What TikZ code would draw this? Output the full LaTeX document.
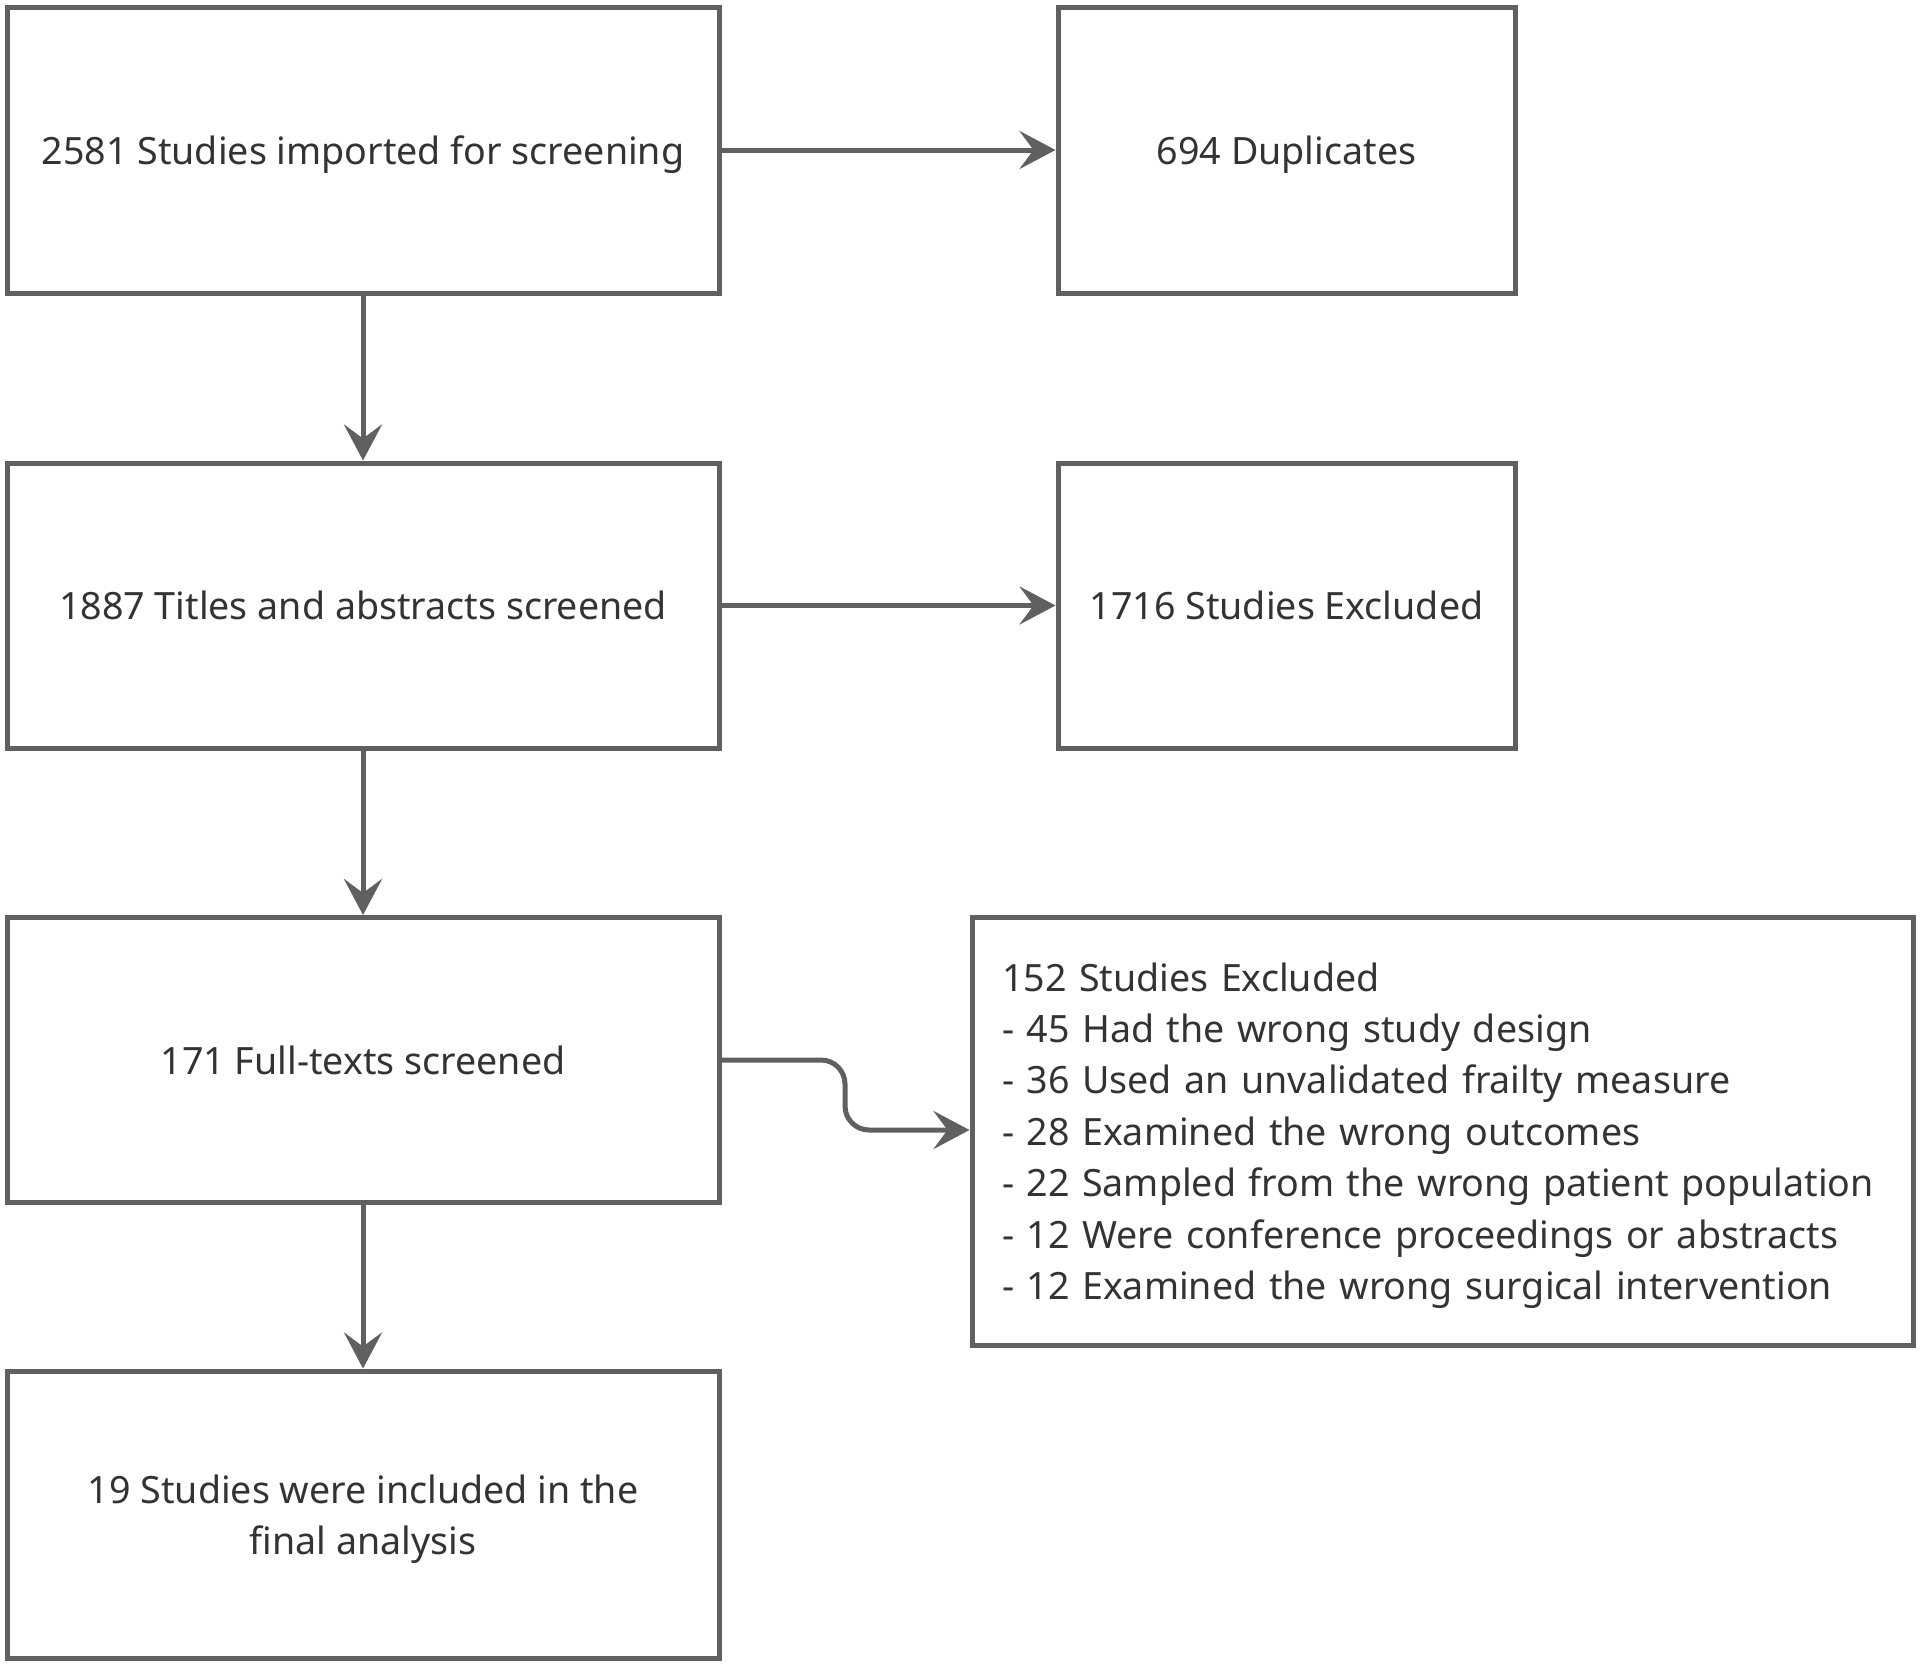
\documentclass[tikz,border=0pt]{standalone}
\usepackage{fontspec}
\setmainfont{Noto Sans}
\usetikzlibrary{arrows.meta}
\definecolor{linegray}{HTML}{606060}
\definecolor{textgray}{HTML}{333333}
\newcommand{\myStrutA}{\rule[-4.8pt]{0pt}{23.8pt}}
\newcommand{\myStrutB}{\rule{0pt}{19pt}}
\begin{document}
\begin{tikzpicture}[x=0.5pt,y=-0.5pt,
  box/.style={draw=linegray, line width=2.5pt, fill=white, text=textgray,
    font=\fontsize{18.8}{25.7}\selectfont, align=center, inner sep=0pt},
  arr/.style={draw=linegray, line width=2.5pt, -{Stealth[length=18pt,width=19pt,inset=7pt]}}]
\useasboundingbox[fill=white] (0,0) rectangle (1920,1665);
\node[box, minimum width=356pt, minimum height=143pt] (b1) at (363,150) {\myStrutA 2581 Studies imported for screening};
\node[box, minimum width=228.5pt, minimum height=143pt] (r1) at (1286.5,150) {\myStrutA 694 Duplicates};
\node[box, minimum width=356pt, minimum height=142.5pt] (b2) at (363,605.5) {\myStrutA 1887 Titles and abstracts screened};
\node[box, minimum width=228.5pt, minimum height=142.5pt] (r2) at (1286.5,605.5) {\myStrutA 1716 Studies Excluded};
\node[box, minimum width=356pt, minimum height=142.5pt] (b3) at (363,1060) {\myStrutA 171 Full-texts screened};
\node[box, minimum width=356pt, minimum height=143.5pt] (b4) at (363,1514.5) {\myStrutB 19 Studies were included in the\\\myStrutA final analysis};
\node[box, align=left, inner xsep=15pt, text width=440.5pt, minimum height=214pt] (ex) at (1442.5,1131)
  {\myStrutB 152 Studies Excluded\\
   - 45 Had the wrong study design\\
   - 36 Used an unvalidated frailty measure\\
   - 28 Examined the wrong outcomes\\
   - 22 Sampled from the wrong patient population\\
   - 12 Were conference proceedings or abstracts\\
   \myStrutA - 12 Examined the wrong surgical intervention};
\coordinate (k1) at (845,1060);
\coordinate (k2) at (845,1130);
\draw[arr] (b1) -- (r1);
\draw[arr] (b2) -- (r2);
\draw[arr] (b1) -- (b2);
\draw[arr] (b2) -- (b3);
\draw[arr] (b3) -- (b4);
\draw[arr, rounded corners=12pt] (b3.east) -- (k1) -- (k2) -- (ex.west |- k2);
\end{tikzpicture}
\end{document}
